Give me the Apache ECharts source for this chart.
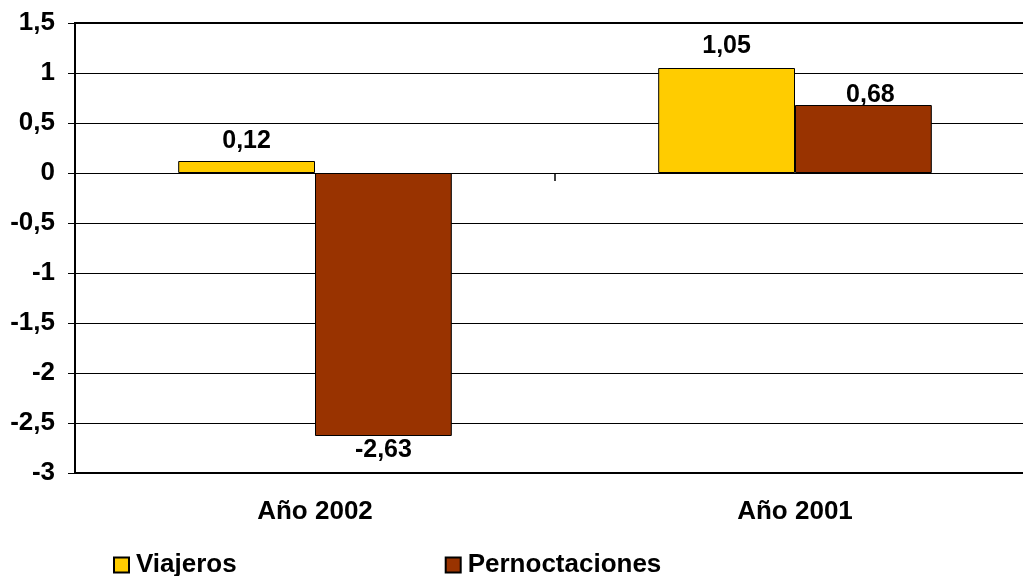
<!DOCTYPE html>
<html>
<head>
<meta charset="utf-8">
<script src="https://cdn.jsdelivr.net/npm/echarts@6/dist/echarts.min.js"></script>
<style>
  html, body { margin: 0; padding: 0; background: #fff; overflow: hidden; }
  #chart { width: 1045px; height: 576px; }
</style>
</head>
<body>
<div id="chart"></div>
<script>
  // datos
  var categories = ['Año 2002', 'Año 2001'];
  var viajeros = [0.12, 1.05];
  var pernoctaciones = [-2.63, 0.68];
  var yTicks = { min: -3, max: 1.5, interval: 0.5 };

  var font = '"Liberation Sans", Arial, sans-serif';

  // desplazamiento manual de etiquetas (como en el original)
  var offViajeros = [[0, 0], [0, -2]];
  var offPernoctaciones = [[0, -5], [7, 10]];

  function coma(v) {
    return String(v).replace('.', ',');
  }

  function barData(values, offsets) {
    return values.map(function (v, i) {
      return { value: v, label: { position: v < 0 ? 'bottom' : 'top', offset: offsets[i] } };
    });
  }

  var chart = echarts.init(document.getElementById('chart'));
  var labelStyle = {
    show: true,
    distance: 7,
    fontFamily: font,
    fontWeight: 'bold',
    fontSize: 25,
    color: '#000',
    formatter: function (p) { return coma(p.value); }
  };

  chart.setOption({
    animation: false,
    grid: {
      left: 75, top: 23, width: 960, height: 450,
      show: true, borderColor: '#000', borderWidth: 2
    },
    legend: {
      left: 108, top: 547,
      icon: 'rect',
      itemWidth: 15, itemHeight: 15, itemGap: 208,
      textStyle: { fontFamily: font, fontWeight: 'bold', fontSize: 26, color: '#000', padding: [0, 0, 0, 2] },
      data: ['Viajeros', 'Pernoctaciones']
    },
    xAxis: [{
      type: 'category',
      data: categories,
      position: 'bottom',
      axisLine: { onZero: false, lineStyle: { color: '#000', width: 2 } },
      axisTick: { show: false },
      axisLabel: { margin: 26, fontFamily: font, fontWeight: 'bold', fontSize: 26, color: '#000' }
    }, {
      // línea del cero con marca de categoría
      type: 'category',
      data: categories,
      position: 'top',
      offset: -150,
      axisLine: { onZero: false, lineStyle: { color: '#000', width: 1 } },
      axisTick: { show: true, inside: true, length: 8, lineStyle: { color: '#000', width: 1.5 } },
      axisLabel: { show: false }
    }],
    yAxis: {
      type: 'value',
      min: yTicks.min, max: yTicks.max, interval: yTicks.interval,
      axisLine: { show: true, lineStyle: { color: '#000', width: 2 } },
      axisTick: { show: true, length: 7, lineStyle: { color: '#000' } },
      splitLine: { lineStyle: { color: '#000', width: 1 } },
      axisLabel: {
        margin: 20, fontFamily: font, fontWeight: 'bold', fontSize: 26, color: '#000',
        formatter: coma
      }
    },
    series: [{
      name: 'Viajeros',
      type: 'bar',
      data: barData(viajeros, offViajeros),
      barGap: '0%',
      barCategoryGap: '43%',
      itemStyle: { color: '#FFCC00', borderColor: '#000', borderWidth: 1 },
      label: labelStyle
    }, {
      name: 'Pernoctaciones',
      type: 'bar',
      data: barData(pernoctaciones, offPernoctaciones),
      barGap: '0%',
      barCategoryGap: '43%',
      itemStyle: { color: '#993300', borderColor: '#000', borderWidth: 1 },
      label: labelStyle
    }]
  });
</script>
</body>
</html>
